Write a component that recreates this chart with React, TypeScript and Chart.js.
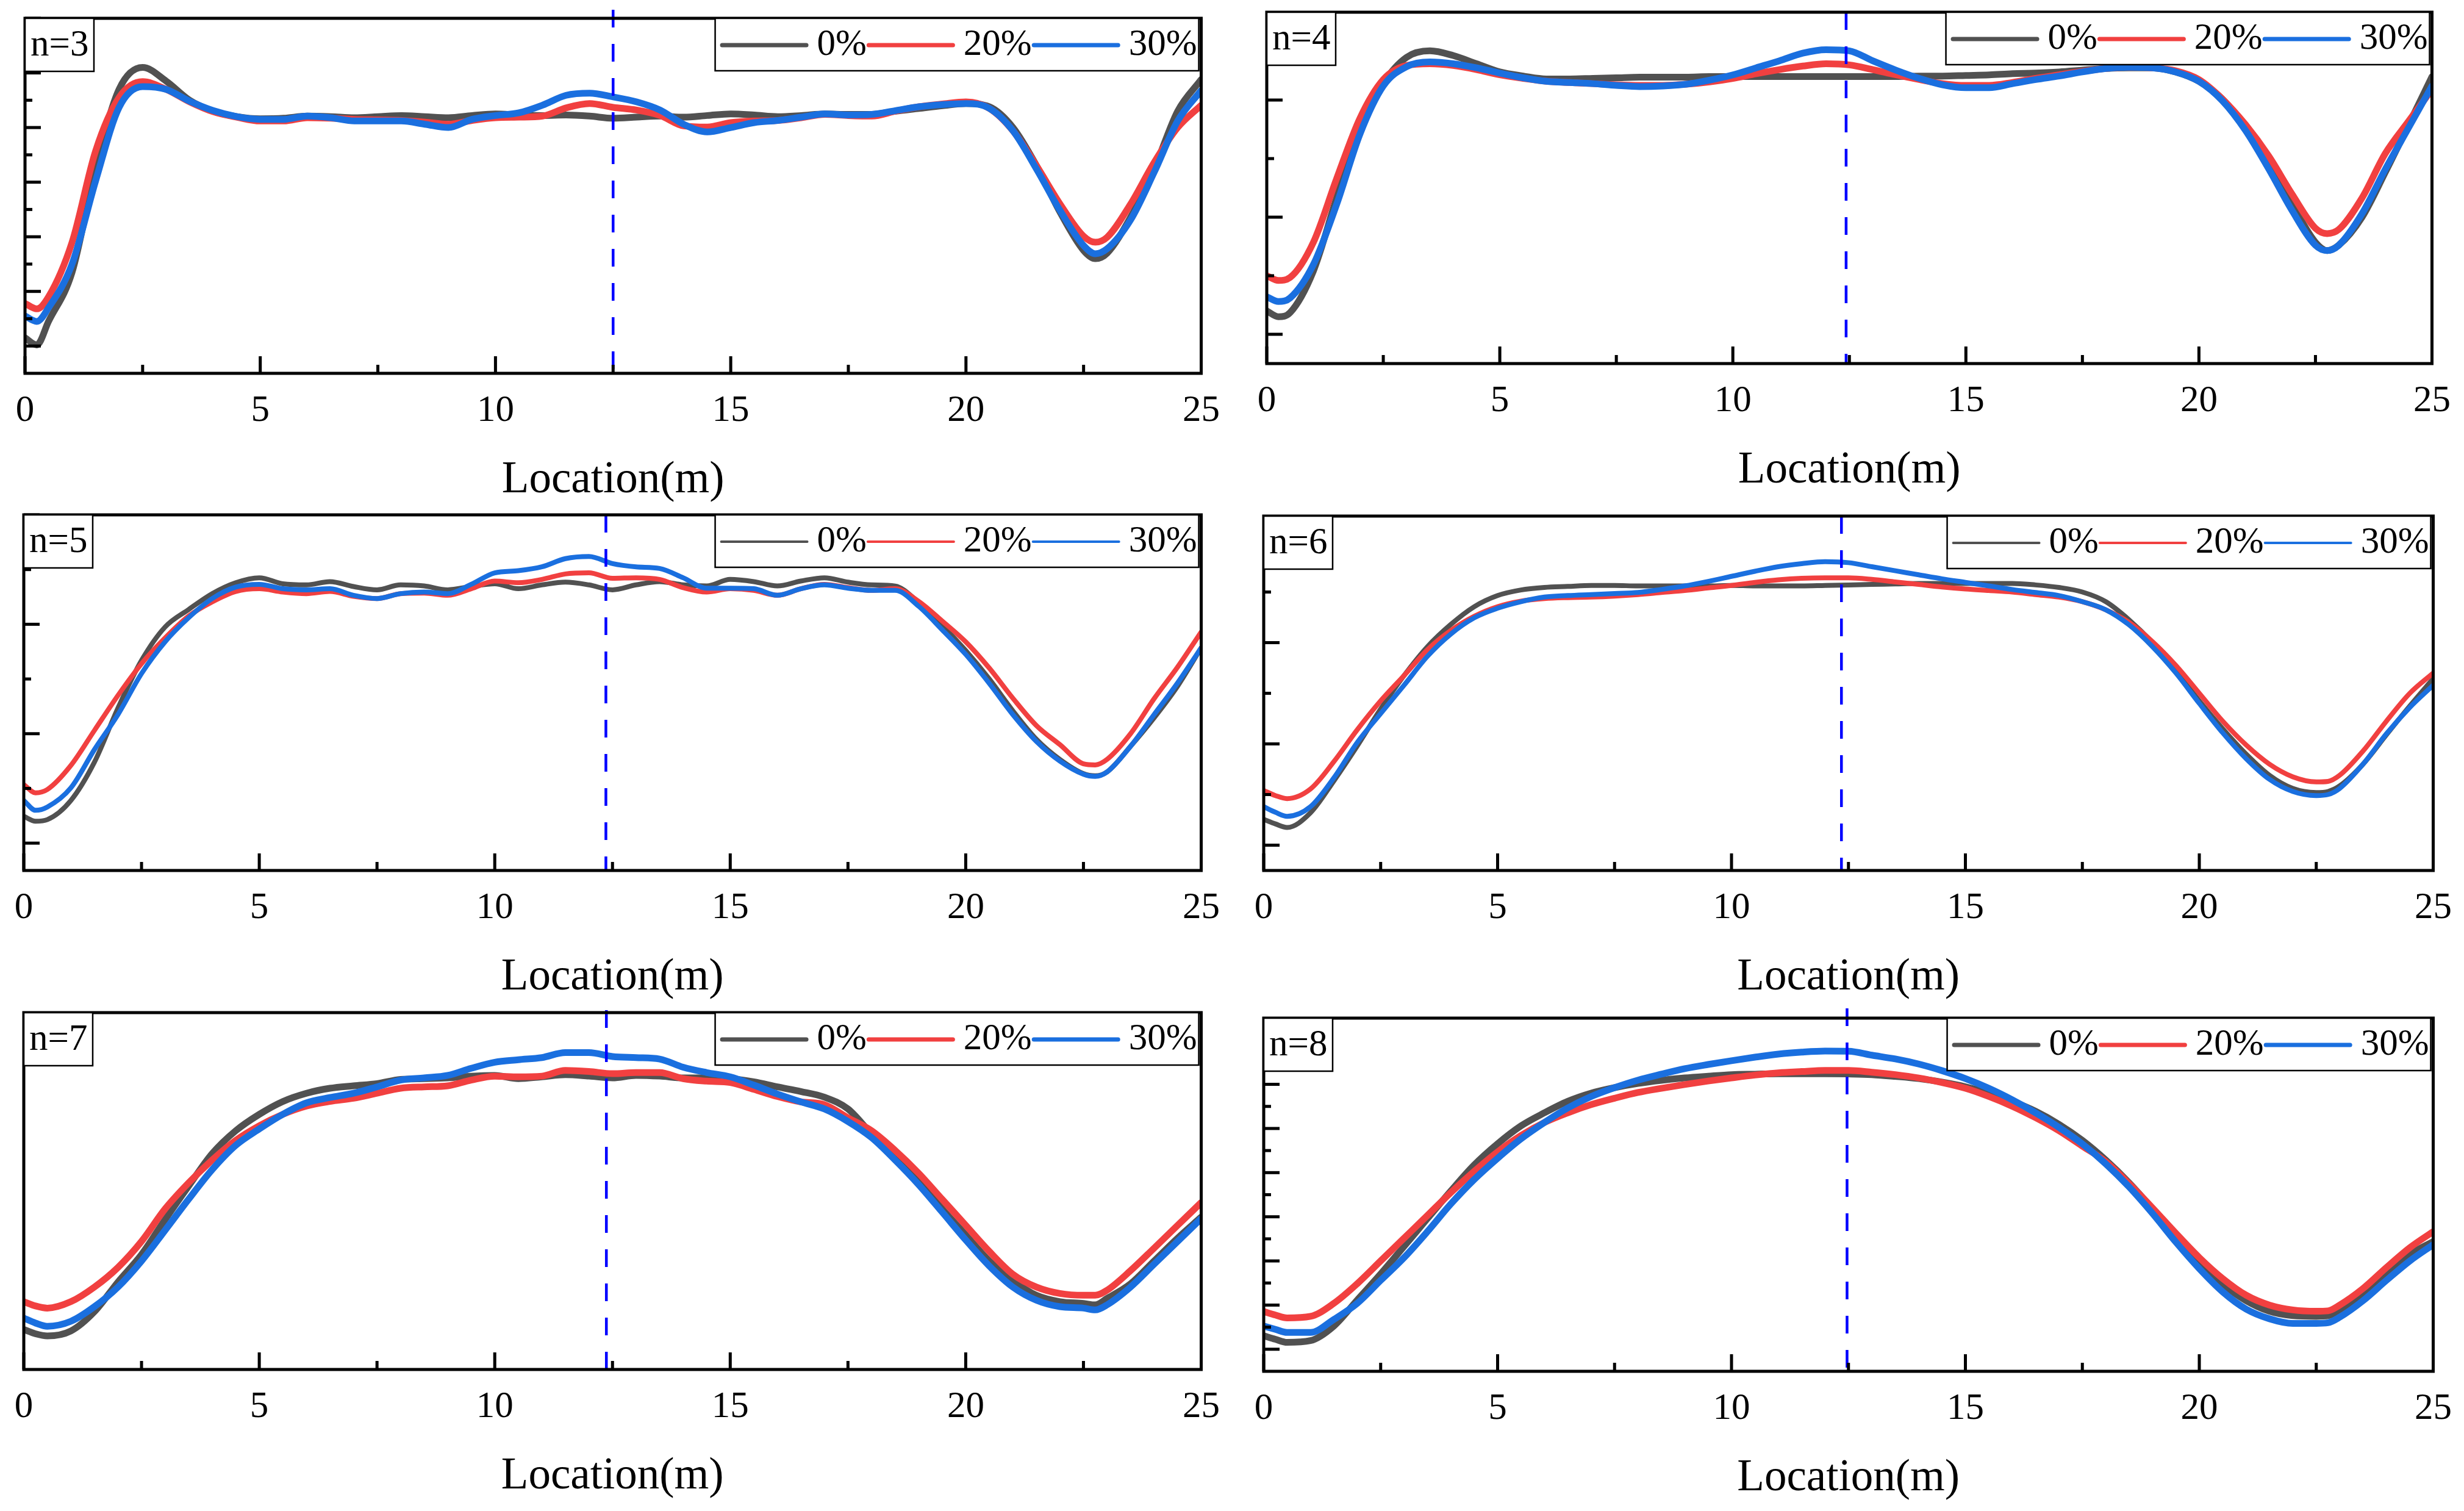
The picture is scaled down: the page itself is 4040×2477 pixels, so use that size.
import React, { useEffect, useRef } from "react";
import { Chart, registerables } from "chart.js";

Chart.register(...registerables);

const FONT = '"Liberation Serif", "Times New Roman", Times, serif';
Chart.defaults.font.family = FONT;

// ---------- data ----------
// sample locations along the span (m)
const LOCATIONS = [
  0, 0.25, 0.5, 1, 1.5, 2, 2.5,
  3, 3.5, 4, 4.5, 5, 5.5, 6, 6.5, 7, 7.5,
  8, 8.5, 9, 9.5, 10, 10.5, 11, 11.5, 12, 12.5,
  13, 13.5, 14, 14.5, 15, 15.5, 16, 16.5, 17, 17.5,
  18, 18.5, 19, 19.5, 20, 20.5, 21, 21.5, 22,
  22.5, 22.75, 23, 23.5, 24, 24.5, 25,
];

const SERIES_LABELS = ["0%", "20%", "30%"];
const SERIES_COLORS = ["#515151", "#F14040", "#1A6FDF"];
const PANEL_LABELS = ["n=3", "n=4", "n=5", "n=6", "n=7", "n=8"];
const X_MAJOR_TICKS = [0, 5, 10, 15, 20, 25];
const X_MINOR_TICKS = [2.5, 7.5, 12.5, 17.5, 22.5];
const MARK_X = [12.5, 12.43, 12.36, 12.35, 12.37, 12.47];
const X_TITLE = "Location(m)";

// n = 3
const N3_0 = [
  0.15, 0.02, 0.45, 1.35, 3.25, 4.7, 5.1,
  4.85, 4.5, 4.3, 4.2, 4.16, 4.17, 4.21, 4.2, 4.18, 4.2,
  4.22, 4.2, 4.18, 4.22, 4.25, 4.23, 4.22, 4.23, 4.21, 4.17,
  4.19, 4.21, 4.19, 4.22, 4.25, 4.23, 4.2, 4.22, 4.25, 4.24,
  4.24, 4.3, 4.35, 4.4, 4.44, 4.38, 4.0, 3.3, 2.45,
  1.75, 1.6, 1.7, 2.36, 3.24, 4.3, 4.88,
];
const N3_20 = [
  0.78, 0.68, 0.9, 1.9, 3.57, 4.55, 4.84,
  4.7, 4.47, 4.29, 4.19, 4.12, 4.12, 4.18, 4.17, 4.15, 4.14,
  4.13, 4.1, 4.06, 4.13, 4.18, 4.19, 4.21, 4.36, 4.44, 4.37,
  4.32, 4.22, 4.03, 4.01, 4.09, 4.12, 4.13, 4.18, 4.24, 4.22,
  4.21, 4.3, 4.38, 4.43, 4.47, 4.35, 3.94, 3.3, 2.6,
  2.01, 1.9, 1.99, 2.6, 3.36, 4.0, 4.41,
];
const N3_30 = [
  0.55, 0.45, 0.7, 1.5, 3.02, 4.37, 4.75,
  4.7, 4.48, 4.31, 4.2, 4.15, 4.15, 4.21, 4.18, 4.12, 4.12,
  4.12, 4.06, 4.0, 4.15, 4.22, 4.27, 4.41, 4.59, 4.63, 4.56,
  4.47, 4.32, 4.06, 3.92, 4.0, 4.09, 4.13, 4.19, 4.25, 4.23,
  4.24, 4.31, 4.38, 4.42, 4.44, 4.35, 3.94, 3.24, 2.48,
  1.84, 1.69, 1.78, 2.31, 3.18, 4.12, 4.68,
];

// n = 4
const N4_0 = [
  0.4, 0.3, 0.37, 1.08, 2.33, 3.53, 4.29,
  4.73, 4.84, 4.76, 4.62, 4.48, 4.41, 4.36, 4.36, 4.37, 4.38,
  4.39, 4.39, 4.39, 4.4, 4.4, 4.4, 4.4, 4.4, 4.4, 4.4,
  4.4, 4.4, 4.41, 4.41, 4.42, 4.43, 4.45, 4.46, 4.48, 4.51,
  4.54, 4.55, 4.55, 4.48, 4.32, 4.02, 3.53, 2.93, 2.22,
  1.57, 1.43, 1.52, 2.0, 2.77, 3.58, 4.4,
];
const N4_20 = [
  1.0, 0.92, 0.97, 1.57, 2.66, 3.69, 4.35,
  4.59, 4.62, 4.59, 4.52, 4.43, 4.37, 4.32, 4.3, 4.28, 4.26,
  4.25, 4.25, 4.27, 4.31, 4.37, 4.45, 4.52, 4.58, 4.62, 4.6,
  4.52, 4.43, 4.35, 4.28, 4.25, 4.25, 4.3, 4.37, 4.43, 4.49,
  4.54, 4.56, 4.55, 4.5, 4.35, 4.02, 3.58, 3.04, 2.39,
  1.81, 1.72, 1.79, 2.33, 3.09, 3.64, 4.18,
];
const N4_30 = [
  0.64, 0.56, 0.62, 1.19, 2.22, 3.42, 4.24,
  4.57, 4.65, 4.62, 4.55, 4.46, 4.38, 4.32, 4.3, 4.28, 4.25,
  4.23, 4.24, 4.27, 4.34, 4.43, 4.55, 4.67, 4.8, 4.86, 4.84,
  4.67, 4.51, 4.37, 4.26, 4.21, 4.21, 4.28, 4.35, 4.41, 4.48,
  4.54, 4.56, 4.55, 4.48, 4.32, 3.99, 3.48, 2.82, 2.11,
  1.52, 1.43, 1.52, 2.06, 2.82, 3.53, 4.24,
];

// n = 5
const N5_0 = [
  0.49, 0.4, 0.43, 0.78, 1.48, 2.47, 3.34,
  3.95, 4.27, 4.56, 4.76, 4.85, 4.74, 4.72, 4.78, 4.69, 4.63,
  4.72, 4.7, 4.63, 4.69, 4.74, 4.65, 4.72, 4.77, 4.72, 4.63,
  4.72, 4.78, 4.72, 4.7, 4.82, 4.78, 4.7, 4.79, 4.85, 4.77,
  4.72, 4.7, 4.4, 3.98, 3.52, 3.0, 2.42, 1.9, 1.53,
  1.27, 1.23, 1.3, 1.77, 2.29, 2.87, 3.57,
];
const N5_20 = [
  1.07, 0.92, 0.98, 1.42, 2.06, 2.7, 3.28,
  3.75, 4.15, 4.41, 4.6, 4.65, 4.59, 4.56, 4.6, 4.51, 4.47,
  4.56, 4.57, 4.53, 4.65, 4.79, 4.76, 4.82, 4.92, 4.94, 4.84,
  4.85, 4.82, 4.67, 4.59, 4.65, 4.62, 4.53, 4.65, 4.73, 4.67,
  4.62, 4.65, 4.42, 4.06, 3.68, 3.2, 2.65, 2.15, 1.8,
  1.45, 1.43, 1.53, 2.0, 2.64, 3.22, 3.86,
];
const N5_30 = [
  0.78, 0.6, 0.66, 1.01, 1.71, 2.35, 3.1,
  3.68, 4.12, 4.47, 4.68, 4.73, 4.65, 4.63, 4.65, 4.53, 4.47,
  4.56, 4.59, 4.56, 4.73, 4.94, 4.98, 5.05, 5.2, 5.24, 5.11,
  5.05, 5.02, 4.85, 4.66, 4.66, 4.65, 4.53, 4.65, 4.72, 4.66,
  4.62, 4.62, 4.33, 3.9, 3.45, 2.92, 2.35, 1.86, 1.5,
  1.26, 1.22, 1.3, 1.77, 2.35, 2.93, 3.57,
];

// n = 6
const N6_0 = [
  0.51, 0.42, 0.35, 0.64, 1.27, 1.96, 2.69,
  3.35, 3.92, 4.36, 4.71, 4.93, 5.04, 5.09, 5.11, 5.13, 5.13,
  5.12, 5.12, 5.12, 5.12, 5.13, 5.12, 5.12, 5.12, 5.13, 5.14,
  5.15, 5.16, 5.17, 5.17, 5.17, 5.17, 5.17, 5.14, 5.09, 5.0,
  4.81, 4.45, 4.0, 3.45, 2.85, 2.3, 1.8, 1.38, 1.12,
  1.04, 1.06, 1.17, 1.6, 2.18, 2.75, 3.29,
];
const N6_20 = [
  1.08, 0.98, 0.92, 1.11, 1.65, 2.28, 2.85,
  3.35, 3.86, 4.24, 4.52, 4.71, 4.82, 4.87, 4.89, 4.9, 4.92,
  4.95, 4.99, 5.03, 5.08, 5.13, 5.19, 5.24, 5.27, 5.28, 5.28,
  5.25, 5.2, 5.15, 5.1, 5.06, 5.03, 5.0, 4.95, 4.9, 4.81,
  4.65, 4.4, 4.02, 3.55, 3.0, 2.45, 1.98, 1.6, 1.35,
  1.25, 1.26, 1.38, 1.86, 2.45, 3.0, 3.4,
];
const N6_30 = [
  0.76, 0.65, 0.57, 0.76, 1.33, 2.03, 2.6,
  3.16, 3.73, 4.17, 4.49, 4.68, 4.81, 4.9, 4.93, 4.95, 4.97,
  4.99, 5.05, 5.12, 5.21, 5.31, 5.41, 5.5, 5.56, 5.6, 5.58,
  5.5, 5.42, 5.34, 5.26, 5.19, 5.12, 5.05, 4.99, 4.93, 4.81,
  4.65, 4.35, 3.92, 3.4, 2.8, 2.22, 1.71, 1.3, 1.06,
  0.98, 1.0, 1.12, 1.6, 2.2, 2.72, 3.16,
];

// n = 7
const N7_0 = [
  1.12, 1.0, 0.94, 1.08, 1.62, 2.45, 3.22,
  4.2, 5.14, 6.05, 6.69, 7.15, 7.51, 7.74, 7.88, 7.95, 8.01,
  8.13, 8.15, 8.17, 8.22, 8.24, 8.15, 8.2, 8.26, 8.22, 8.17,
  8.24, 8.22, 8.17, 8.17, 8.15, 8.06, 7.92, 7.79, 7.63, 7.3,
  6.6, 5.96, 5.28, 4.5, 3.77, 3.04, 2.49, 2.08, 1.9,
  1.85, 1.81, 1.99, 2.4, 3.04, 3.68, 4.27,
];
const N7_20 = [
  1.9, 1.78, 1.72, 1.9, 2.31, 2.86, 3.59,
  4.5, 5.23, 5.87, 6.42, 6.83, 7.15, 7.38, 7.51, 7.6, 7.74,
  7.88, 7.92, 7.95, 8.11, 8.22, 8.2, 8.22, 8.38, 8.35, 8.29,
  8.32, 8.32, 8.15, 8.08, 8.04, 7.85, 7.65, 7.5, 7.42, 7.05,
  6.69, 6.14, 5.5, 4.77, 4.04, 3.31, 2.67, 2.31, 2.13,
  2.08, 2.08, 2.22, 2.77, 3.4, 4.04, 4.68,
];
const N7_30 = [
  1.44, 1.3, 1.21, 1.35, 1.76, 2.31, 3.04,
  3.9, 4.77, 5.6, 6.28, 6.74, 7.15, 7.47, 7.62, 7.74, 7.92,
  8.11, 8.17, 8.24, 8.44, 8.61, 8.68, 8.74, 8.88, 8.88, 8.77,
  8.74, 8.7, 8.47, 8.32, 8.2, 7.97, 7.72, 7.5, 7.3, 6.95,
  6.5, 5.87, 5.18, 4.41, 3.63, 2.9, 2.31, 1.94, 1.76,
  1.72, 1.67, 1.81, 2.31, 2.95, 3.59, 4.23,
];

// n = 8
const N8_0 = [
  0.61, 0.45, 0.31, 0.39, 1.05, 2.23, 3.41,
  4.66, 5.92, 7.17, 8.35, 9.31, 10.12, 10.71, 11.23, 11.6, 11.85,
  12.04, 12.18, 12.29, 12.37, 12.44, 12.46, 12.48, 12.48, 12.48, 12.47,
  12.44, 12.36, 12.26, 12.1, 11.89, 11.6, 11.23, 10.78, 10.19, 9.46,
  8.57, 7.54, 6.36, 5.1, 3.95, 2.95, 2.2, 1.72, 1.52,
  1.49, 1.52, 1.79, 2.53, 3.41, 4.29, 4.88,
];
const N8_20 = [
  1.71, 1.55, 1.42, 1.49, 2.08, 2.97, 4.0,
  5.03, 6.06, 7.1, 8.06, 8.94, 9.68, 10.27, 10.71, 11.08, 11.37,
  11.63, 11.82, 11.99, 12.15, 12.29, 12.42, 12.52, 12.58, 12.63, 12.63,
  12.55, 12.44, 12.29, 12.08, 11.82, 11.45, 11.01, 10.49, 9.9, 9.2,
  8.5, 7.5, 6.4, 5.25, 4.15, 3.2, 2.45, 2.0, 1.78,
  1.72, 1.74, 2.0, 2.75, 3.7, 4.6, 5.33,
];
const N8_30 = [
  1.05, 0.9, 0.76, 0.76, 1.35, 2.08, 3.12,
  4.15, 5.33, 6.58, 7.69, 8.65, 9.53, 10.27, 10.93, 11.45, 11.85,
  12.19, 12.46, 12.71, 12.9, 13.07, 13.23, 13.37, 13.46, 13.51, 13.5,
  13.32, 13.15, 12.92, 12.62, 12.26, 11.82, 11.3, 10.71, 10.05, 9.3,
  8.4, 7.35, 6.15, 4.85, 3.65, 2.6, 1.82, 1.38, 1.17,
  1.17, 1.2, 1.45, 2.2, 3.12, 4.0, 4.74,
];

const PANEL_SERIES = [
  [N3_0, N3_20, N3_30],
  [N4_0, N4_20, N4_30],
  [N5_0, N5_20, N5_30],
  [N6_0, N6_20, N6_30],
  [N7_0, N7_20, N7_30],
  [N8_0, N8_20, N8_30],
];

// y axes (arbitrary units, no tick labels in the original)
const Y_MIN = [-0.5, -0.5, -0.5, -0.5, 0, -1];
const Y_MAX = [6, 5.5, 6, 6.5, 10, 15];
const Y_MAJOR = [
  [0, 1, 2, 3, 4, 5, 6],
  [0, 2, 4],
  [0, 2, 4, 6],
  [0, 2, 4, 6],
  [],
  [0, 2, 4, 6, 8, 10, 12, 14],
];
const Y_MINOR = [
  [0.5, 1.5, 2.5, 3.5, 4.5, 5.5],
  [1, 3, 5],
  [1, 3, 5],
  [1, 3, 5],
  [],
  [1, 3, 5, 7, 9, 11, 13],
];

// ---------- layout (page pixels) ----------
const PLOT_BOXES = [
  { l: 41, t: 30, r: 1980, b: 612 },
  { l: 2077, t: 20, r: 3998, b: 596 },
  { l: 39, t: 844, r: 1980, b: 1427 },
  { l: 2072, t: 846, r: 4000, b: 1427 },
  { l: 39, t: 1660, r: 1980, b: 2245 },
  { l: 2072, t: 1669, r: 4000, b: 2248 },
];
const MARK_OVERSHOOT = [14, 0, 0, 0, 4, 16];
const LINE_WIDTHS = [11, 11, 8, 8, 11, 11];
const LEGEND_LINE_WIDTHS = [7, 7, 4, 4, 7, 7];
const PAD_L = 45;
const PAD_R = 45;
const PAD_T = 25;
const PAD_B = 6;
const AXIS_H = 224;

function Panel({ idx }: { idx: number }) {
  const ref = useRef<HTMLCanvasElement | null>(null);

  useEffect(() => {
    const canvas = ref.current;
    if (!canvas) return;

    const decor = {
      id: "decor" + idx,
      afterDatasetsDraw(chart: any) {
        const ctx: CanvasRenderingContext2D = chart.ctx;
        const { left, right, top, bottom } = chart.chartArea;
        const xs = chart.scales.x;
        const ys = chart.scales.y;
        ctx.save();

        // dashed reference line at mid-span
        const mx = xs.getPixelForValue(MARK_X[idx]);
        ctx.beginPath();
        ctx.setLineDash([29, 27]);
        ctx.lineWidth = 4.5;
        ctx.strokeStyle = "#0000FF";
        ctx.moveTo(mx, top - MARK_OVERSHOOT[idx]);
        ctx.lineTo(mx, bottom);
        ctx.stroke();
        ctx.setLineDash([]);

        // inward ticks
        ctx.strokeStyle = "#000";
        ctx.lineWidth = 5;
        ctx.lineCap = "butt";
        const seg = (x1: number, y1: number, x2: number, y2: number) => {
          ctx.beginPath();
          ctx.moveTo(x1, y1);
          ctx.lineTo(x2, y2);
          ctx.stroke();
        };
        X_MAJOR_TICKS.forEach((v) => {
          const p = xs.getPixelForValue(v);
          seg(p, bottom, p, bottom - 28);
        });
        X_MINOR_TICKS.forEach((v) => {
          const p = xs.getPixelForValue(v);
          seg(p, bottom, p, bottom - 14);
        });
        Y_MAJOR[idx].forEach((v) => {
          const p = ys.getPixelForValue(v);
          seg(left, p, left + 26, p);
        });
        Y_MINOR[idx].forEach((v) => {
          const p = ys.getPixelForValue(v);
          seg(left, p, left + 12, p);
        });

        // frame
        ctx.lineWidth = 5;
        ctx.lineJoin = "miter";
        ctx.strokeRect(left, top, right - left, bottom - top);

        // panel label box
        const nbW = 113;
        const nbH = 87;
        ctx.fillStyle = "#fff";
        ctx.fillRect(left, top, nbW, nbH);
        ctx.lineWidth = 2.5;
        ctx.strokeStyle = "#000";
        ctx.strokeRect(left, top, nbW, nbH);
        ctx.fillStyle = "#000";
        ctx.font = `61px ${FONT}`;
        ctx.textBaseline = "middle";
        ctx.textAlign = "left";
        ctx.fillText(PANEL_LABELS[idx], left + 9, top + 45);

        // legend box
        const lineLen = 145;
        const gap = 14;
        const startPad = 8;
        const endPad = 3;
        const widths = SERIES_LABELS.map((s) => ctx.measureText(s).width);
        const boxW =
          startPad + SERIES_LABELS.length * (lineLen + gap) + widths.reduce((a, b) => a + b, 0) + endPad;
        const boxH = 86;
        const boxR = right - 4;
        const boxL = boxR - boxW;
        const boxT = top;
        ctx.fillStyle = "#fff";
        ctx.fillRect(boxL, boxT, boxW, boxH);
        ctx.lineWidth = 2.5;
        ctx.strokeRect(boxL, boxT, boxW, boxH);
        let cx = boxL + startPad;
        const cy = boxT + boxH / 2 + 1;
        const lw = LEGEND_LINE_WIDTHS[idx];
        SERIES_LABELS.forEach((s, i) => {
          ctx.strokeStyle = SERIES_COLORS[i];
          ctx.lineWidth = lw;
          ctx.lineCap = "round";
          ctx.beginPath();
          ctx.moveTo(cx + lw / 2, cy);
          ctx.lineTo(cx + lineLen - lw / 2, cy);
          ctx.stroke();
          cx += lineLen + gap;
          ctx.fillStyle = "#000";
          ctx.fillText(s, cx, cy);
          cx += widths[i];
        });

        ctx.restore();
      },
    };

    const series = PANEL_SERIES[idx];
    const chart = new Chart(canvas, {
      type: "line",
      data: {
        datasets: series.map((vals, i) => ({
          label: SERIES_LABELS[i],
          data: LOCATIONS.map((x, j) => ({ x, y: vals[j] })),
          borderColor: SERIES_COLORS[i],
          backgroundColor: SERIES_COLORS[i],
          borderWidth: LINE_WIDTHS[idx],
          pointRadius: 0,
          pointHoverRadius: 0,
          cubicInterpolationMode: "monotone" as const,
          borderCapStyle: "round" as const,
          borderJoinStyle: "round" as const,
          fill: false,
          order: 3 - i,
        })),
      },
      options: {
        animation: false,
        responsive: true,
        maintainAspectRatio: false,
        events: [],
        layout: { padding: { left: PAD_L, right: PAD_R, top: PAD_T, bottom: PAD_B } },
        plugins: {
          legend: { display: false },
          tooltip: { enabled: false },
          title: { display: false },
        },
        scales: {
          x: {
            type: "linear",
            min: 0,
            max: 25,
            ticks: {
              stepSize: 5,
              autoSkip: false,
              maxRotation: 0,
              color: "#000",
              padding: 25,
              font: { family: FONT, size: 61 },
            },
            grid: { display: false, drawTicks: false },
            border: { display: false },
            title: {
              display: true,
              text: X_TITLE,
              color: "#000",
              font: { family: FONT, size: 73 },
              padding: { top: 0, bottom: 4 },
            },
            afterFit: (scale: any) => {
              scale.height = AXIS_H;
            },
          },
          y: {
            type: "linear",
            display: false,
            min: Y_MIN[idx],
            max: Y_MAX[idx],
          },
        },
      },
      plugins: [decor],
    } as any);

    return () => chart.destroy();
  }, [idx]);

  const box = PLOT_BOXES[idx];
  const left = box.l - PAD_L;
  const top = box.t - PAD_T;
  const w = box.r - box.l + PAD_L + PAD_R;
  const h = box.b - box.t + PAD_T + AXIS_H + PAD_B;
  return (
    <div style={{ position: "absolute", left, top, width: w, height: h }}>
      <canvas ref={ref} />
    </div>
  );
}

export default function App() {
  return (
    <div
      style={{
        position: "absolute",
        left: 0,
        top: 0,
        width: 4040,
        height: 2477,
        background: "#fff",
        overflow: "hidden",
      }}
    >
      {PANEL_LABELS.map((_, i) => (
        <Panel key={i} idx={i} />
      ))}
    </div>
  );
}
